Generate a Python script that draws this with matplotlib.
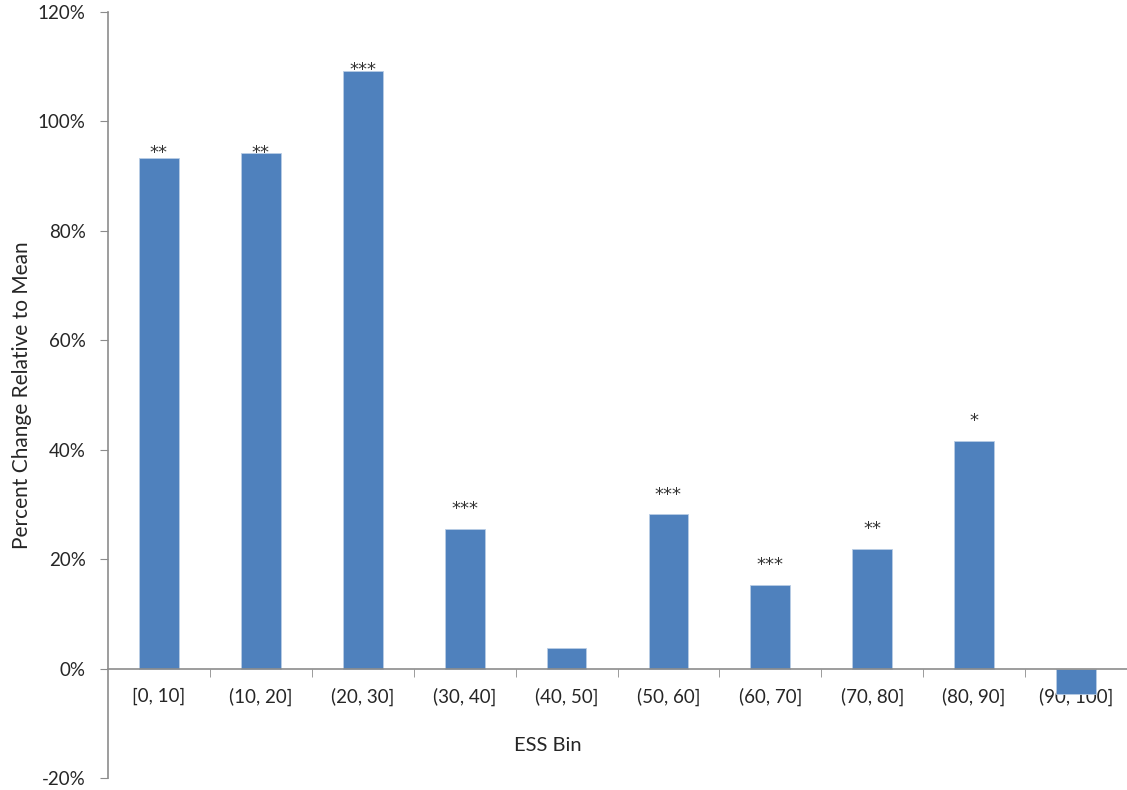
import numpy as np
import matplotlib.pyplot as plt

bins = ['[0, 10]', '(10, 20]', '(20, 30]', '(30, 40]', '(40, 50]',
        '(50, 60]', '(60, 70]', '(70, 80]', '(80, 90]', '(90, 100]']
pct_change = [93.3, 94.2, 109.2, 25.6, 3.7, 28.2, 15.2, 21.9, 41.6, -4.6]
stars = ['**', '**', '***', '***', '', '***', '***', '**', '*', '']
# height (in %) of each significance marker
star_y = [95.3, 95.3, 110.5, 30.1, None, 32.7, 19.9, 26.5, 46.2, None]

plt.rcParams['font.family'] = ['Lato', 'DejaVu Sans']
axis_gray = '#8c8c8c'
text_col = '#262626'

fig = plt.figure(figsize=(11.27, 7.90), dpi=100)
ax = fig.add_axes([108 / 1127, 12 / 790, 1019 / 1127, 766 / 790])

x = np.arange(len(bins))
ax.bar(x, pct_change, width=0.39, color='#4f81bd', edgecolor='#b9cde5', linewidth=0.6, zorder=2)

for xi, s, sy in zip(x, stars, star_y):
    if s:
        # asterisks sit high in the em box, so shift the baseline down
        ax.annotate(s, (xi, sy), xytext=(0, -7.6), textcoords='offset points',
                    ha='center', va='baseline', fontsize=13, family='DejaVu Sans',
                    color='#333333')

ax.set_xlim(-0.5, len(bins) - 0.5)
ax.set_ylim(-20, 120)
ax.set_yticks(np.arange(-20, 121, 20))
ax.set_yticklabels([f'{t}%' for t in range(-20, 121, 20)])

# category labels on the zero line, tick marks between categories
ax.spines['bottom'].set_position(('data', 0))
ax.set_xticks(x)
ax.set_xticklabels(bins)
ax.set_xticks(np.arange(0.5, len(bins) - 0.5, 1), minor=True)
ax.tick_params(axis='x', which='major', length=0, pad=14, labelsize=13.5, labelcolor=text_col)
ax.tick_params(axis='x', which='minor', length=6, color=axis_gray, direction='out')
ax.tick_params(axis='y', length=6, color=axis_gray, direction='out', pad=10, labelsize=13.5, labelcolor=text_col)

for side in ['top', 'right']:
    ax.spines[side].set_visible(False)
for side in ['left', 'bottom']:
    ax.spines[side].set_color(axis_gray)
    ax.spines[side].set_linewidth(1.2)

ax.set_ylabel('Percent Change Relative to Mean', fontsize=15, color=text_col)
ax.yaxis.set_label_coords(-0.0746, 0.5)
ax.text(0.432, 0.043, 'ESS Bin', transform=ax.transAxes, ha='center', va='center',
        fontsize=14.5, color=text_col)

fig.savefig('out.png', dpi=100)
